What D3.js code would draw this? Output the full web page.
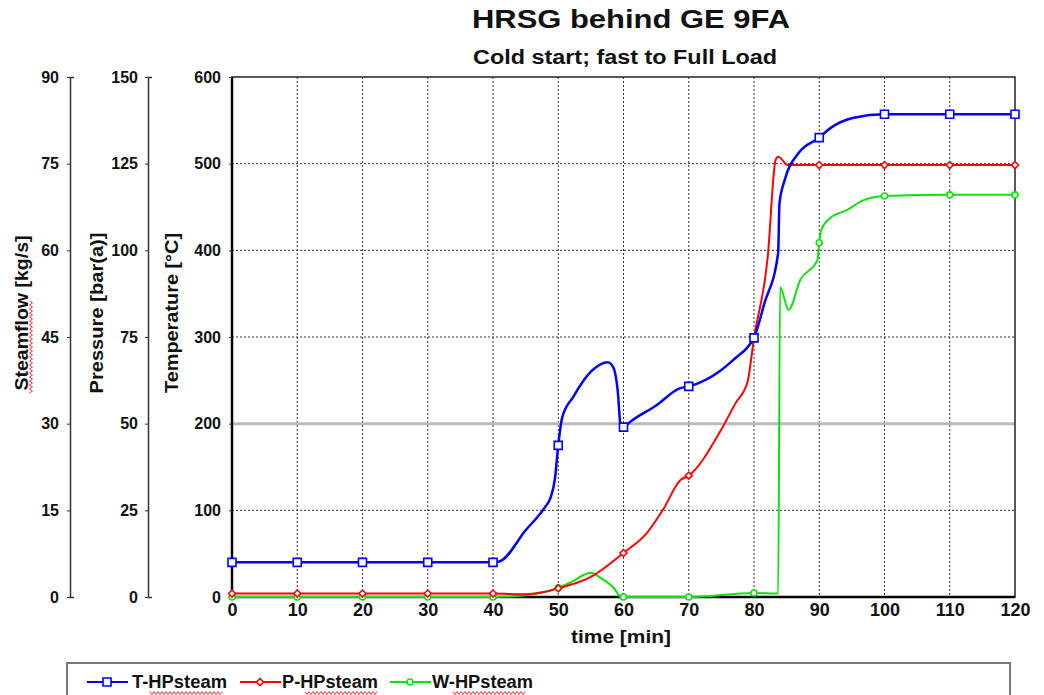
<!DOCTYPE html>
<html>
<head>
<meta charset="utf-8">
<script src="https://cdn.jsdelivr.net/npm/d3@7"></script>
<style>
  body { margin: 0; background: #fff; }
  svg text { font-family: "Liberation Sans", Arial, sans-serif; font-weight: bold; fill: #111; }
</style>
</head>
<body>
<svg id="chart"></svg>
<script>
const width = 1044;
const height = 695;

// DATA
const tTime = [0, 10, 20, 30, 40, 41, 45, 48, 48.8, 49.5, 50, 50.6, 52.3, 55, 57.6, 58.5, 59.1, 59.6, 60, 61, 65, 68.7, 70, 75, 77.2, 79, 80, 81.6, 83.7, 83.9, 84.7, 86.8, 90, 91.7, 95.3, 100, 110, 120];
const tVal  = [40, 40, 40, 40, 40, 41, 77, 104, 114, 137, 175, 207, 231, 260, 271, 264, 239, 196, 196, 202, 221, 241, 243, 262, 276, 288, 299, 339, 397, 454, 481, 512, 530, 541, 553, 557, 557, 557];

const pTime = [0, 10, 20, 30, 40, 45, 48, 50, 55, 60, 63.6, 66, 68.7, 70, 74.9, 77.2, 79, 80, 82.1, 83.3, 83.7, 85.2, 90, 100, 110, 120];
const pVal  = [1, 1, 1, 1, 1, 0.8, 1.5, 2.5, 5.8, 12.7, 18.5, 25, 33.7, 35, 48, 56, 62, 74.7, 98, 126, 127, 124.6, 124.6, 124.6, 124.6, 124.6];

const wTime = [0, 10, 20, 30, 40, 45, 50, 52, 55, 56.5, 58.5, 59.6, 60, 70, 80, 83.7, 84, 85.3, 87.1, 89.7, 90, 90.3, 91.7, 94.3, 96.8, 100, 110, 120];
const wVal  = [0, 0, 0, 0, 0, 0.3, 1.6, 2.6, 4.2, 3.3, 1.6, 0, 0, 0, 0.7, 0.6, 53.6, 49.7, 54.9, 58.3, 61.3, 63.5, 65.6, 67, 68.7, 69.4, 69.6, 69.6];

const timeTicks = d3.range(0, 121, 10);
const tempTicks = [0, 100, 200, 300, 400, 500, 600];
const presTicks = [0, 25, 50, 75, 100, 125, 150];
const flowTicks = [0, 15, 30, 45, 60, 75, 90];

const seriesNames = ['T-HPsteam', 'P-HPsteam', 'W-HPsteam'];
const seriesColors = ['#0000ff', '#ff0000', '#10e010'];

// SCALES
const plot = { left: 232, right: 1015, top: 77, bottom: 597 };
const xScale = d3.scaleLinear().domain([0, 120]).range([plot.left, plot.right]);
const yTemp = d3.scaleLinear().domain([0, 600]).range([plot.bottom, plot.top]);
const yPres = d3.scaleLinear().domain([0, 150]).range([plot.bottom, plot.top]);
const yFlow = d3.scaleLinear().domain([0, 90]).range([plot.bottom, plot.top]);

const svg = d3.select('#chart').attr('width', width).attr('height', height);

// GRID
svg.append('g').selectAll('line')
  .data(timeTicks.filter(d => d > 0 && d < 120))
  .join('line')
    .attr('x1', d => xScale(d)).attr('x2', d => xScale(d))
    .attr('y1', plot.top).attr('y2', plot.bottom)
    .attr('stroke', '#333').attr('stroke-width', 1).attr('stroke-dasharray', '2,2');

svg.append('g').selectAll('line')
  .data(tempTicks.filter(d => d > 0 && d < 600))
  .join('line')
    .attr('x1', plot.left).attr('x2', plot.right)
    .attr('y1', d => yTemp(d)).attr('y2', d => yTemp(d))
    .attr('stroke', d => d === 200 ? '#bbb' : '#333')
    .attr('stroke-width', d => d === 200 ? 3 : 1)
    .attr('stroke-dasharray', d => d === 200 ? null : '2,2');

// FRAME
svg.append('rect')
  .attr('x', plot.left).attr('y', plot.top)
  .attr('width', plot.right - plot.left).attr('height', plot.bottom - plot.top)
  .attr('fill', 'none').attr('stroke', '#222').attr('stroke-width', 1.5);
svg.append('line')
  .attr('x1', plot.left).attr('x2', plot.left)
  .attr('y1', plot.top).attr('y2', plot.bottom)
  .attr('stroke', '#000').attr('stroke-width', 2.5);
svg.append('line')
  .attr('x1', plot.left).attr('x2', plot.right)
  .attr('y1', plot.bottom).attr('y2', plot.bottom)
  .attr('stroke', '#000').attr('stroke-width', 2.5);

// AXES
function styleAxis(g, size) {
  g.selectAll('text').style('font-size', size + 'px').attr('fill', '#111');
  g.selectAll('line').attr('stroke', '#333');
  g.select('.domain').attr('stroke', '#333').attr('stroke-width', 1.5);
}

svg.append('g')
  .attr('transform', `translate(0, ${plot.bottom})`)
  .call(d3.axisBottom(xScale).tickValues(timeTicks).tickSize(0).tickPadding(6))
  .call(g => g.select('.domain').remove())
  .call(g => styleAxis(g, 18));

svg.append('g')
  .attr('transform', `translate(${plot.left}, 0)`)
  .call(d3.axisLeft(yTemp).tickValues(tempTicks).tickSizeInner(3).tickSizeOuter(0).tickPadding(8))
  .call(g => g.select('.domain').remove())
  .call(g => styleAxis(g, 16));

svg.append('g')
  .attr('transform', 'translate(148, 0)')
  .call(d3.axisLeft(yPres).tickValues(presTicks).tickSizeInner(3).tickSizeOuter(-4).tickPadding(7))
  .call(g => styleAxis(g, 16));

svg.append('g')
  .attr('transform', 'translate(70, 0)')
  .call(d3.axisLeft(yFlow).tickValues(flowTicks).tickSizeInner(3).tickSizeOuter(-4).tickPadding(8))
  .call(g => styleAxis(g, 16));

// wavy spell-check underline, as in the source document
function squiggle(x0, x1, y) {
  const pts = [];
  for (let x = x0, k = 0; x <= x1; x += 2, k++) pts.push([x, y + (k % 2 ? 1.5 : -1.5)]);
  return d3.line()(pts);
}

// AXIS TITLES
const axisTitles = [
  { text: 'Steamflow [kg/s]', x: 28, len: 155 },
  { text: 'Pressure [bar(a)]', x: 103, len: 161 },
  { text: 'Temperature [°C]', x: 178, len: 160 }
];
svg.append('g').selectAll('text')
  .data(axisTitles)
  .join('text')
    .attr('transform', d => `translate(${d.x}, 313) rotate(-90)`)
    .attr('text-anchor', 'middle')
    .attr('textLength', d => d.len)
    .attr('lengthAdjust', 'spacingAndGlyphs')
    .style('font-size', '19px')
    .text(d => d.text);

svg.append('path')
  .attr('transform', 'translate(31, 393) rotate(-90)')
  .attr('d', squiggle(0, 92, 0))
  .attr('fill', 'none').attr('stroke', '#f33').attr('stroke-width', 1);

svg.append('text')
  .attr('x', 621).attr('y', 643)
  .attr('text-anchor', 'middle')
  .attr('textLength', 100).attr('lengthAdjust', 'spacingAndGlyphs')
  .style('font-size', '18px')
  .text('time [min]');

// TITLES
svg.append('text')
  .attr('x', 631).attr('y', 28)
  .attr('text-anchor', 'middle')
  .attr('textLength', 318).attr('lengthAdjust', 'spacingAndGlyphs')
  .style('font-size', '25px')
  .text('HRSG behind GE 9FA');

svg.append('text')
  .attr('x', 625).attr('y', 64)
  .attr('text-anchor', 'middle')
  .attr('textLength', 304).attr('lengthAdjust', 'spacingAndGlyphs')
  .style('font-size', '20px')
  .text('Cold start; fast to Full Load');

// LINES
const series = [
  { time: tTime, val: tVal, y: yTemp, width: 2.5, marker: 'square' },
  { time: pTime, val: pVal, y: yPres, width: 2, marker: 'diamond' },
  { time: wTime, val: wVal, y: yFlow, width: 2, marker: 'circle' }
].map((s, i) => ({ ...s, name: seriesNames[i], color: seriesColors[i],
  points: s.time.map((t, j) => ({ t, v: s.val[j] })) }));

function markerPath(type, r) {
  if (type === 'square') return `M${-r},${-r}H${r}V${r}H${-r}Z`;
  if (type === 'diamond') return `M0,${-r}L${r},0L0,${r}L${-r},0Z`;
  return d3.symbol(d3.symbolCircle, Math.PI * r * r)();
}
const markerSize = { square: 4, diamond: 3.5, circle: 3 };

// draw green first, blue last (blue on top)
[2, 1, 0].forEach(i => {
  const s = series[i];
  const line = d3.line()
    .x(d => xScale(d.t))
    .y(d => s.y(d.v))
    .curve(d3.curveMonotoneX);
  svg.append('path')
    .datum(s.points)
    .attr('d', line)
    .attr('fill', 'none')
    .attr('stroke', s.color)
    .attr('stroke-width', s.width)
    .attr('stroke-linejoin', 'round');
  svg.append('g').selectAll('path')
    .data(s.points.filter(d => d.t % 10 === 0))
    .join('path')
      .attr('transform', d => `translate(${xScale(d.t)}, ${s.y(d.v)})`)
      .attr('d', markerPath(s.marker, markerSize[s.marker]))
      .attr('fill', '#fff')
      .attr('stroke', s.color)
      .attr('stroke-width', 1.6);
});

// LEGEND
const legend = svg.append('g');
legend.append('rect')
  .attr('x', 67).attr('y', 663).attr('width', 943).attr('height', 50)
  .attr('fill', '#fff').attr('stroke', '#777').attr('stroke-width', 2);

const legendX = [87, 240, 390];
const legendText = [132, 282, 432];
const legendLen = [95, 96, 101];
const squiggleFrom = [150, 305, 453];
series.forEach((s, i) => {
  legend.append('line')
    .attr('x1', legendX[i]).attr('x2', legendX[i] + 41)
    .attr('y1', 682).attr('y2', 682)
    .attr('stroke', s.color).attr('stroke-width', 2);
  legend.append('path')
    .attr('transform', `translate(${legendX[i] + 20}, 682)`)
    .attr('d', markerPath(s.marker, markerSize[s.marker]))
    .attr('fill', '#fff').attr('stroke', s.color).attr('stroke-width', 1.6);
  legend.append('text')
    .attr('x', legendText[i]).attr('y', 688)
    .attr('textLength', legendLen[i]).attr('lengthAdjust', 'spacingAndGlyphs')
    .style('font-size', '18px')
    .text(s.name);
  legend.append('path')
    .attr('d', squiggle(squiggleFrom[i], squiggleFrom[i] + 72, 693))
    .attr('fill', 'none').attr('stroke', '#f33').attr('stroke-width', 1);
});
</script>
</body>
</html>
